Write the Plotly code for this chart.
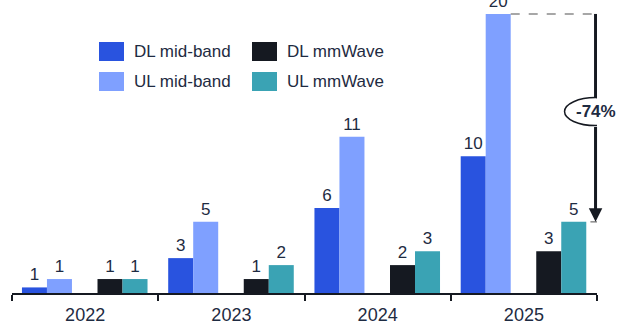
import plotly.graph_objects as go

years = ["2022", "2023", "2024", "2025"]
dl_mid = [0.4, 2.5, 6.1, 9.8]
ul_mid = [1.0, 5.1, 11.2, 20.0]
dl_mm = [1.0, 1.0, 2.0, 3.0]
ul_mm = [1.0, 2.0, 3.0, 5.1]
dl_mid_lbl = ["1", "3", "6", "10"]
ul_mid_lbl = ["1", "5", "11", "20"]
dl_mm_lbl = ["1", "1", "2", "3"]
ul_mm_lbl = ["1", "2", "3", "5"]
change_label = "-74%"

names = ["DL mid-band", "UL mid-band", "DL mmWave", "UL mmWave"]
colors = ["#2953DF", "#7FA0FF", "#151921", "#3AA3B4"]
TXT = "#1E2B42"
FONT = "Liberation Sans, Arial, sans-serif"
FS = 17

W, H = 627, 326
ML, MR, MT, MB = 12, 30, 0, 33
PW, PH = W - ML - MR, H - MT - MB

bw = 0.171
offsets = [-0.432, -0.432 + bw, 0.0846, 0.0846 + bw]

fig = go.Figure()
for name, vals, lbls, col, off in zip(
    names, [dl_mid, ul_mid, dl_mm, ul_mm],
    [dl_mid_lbl, ul_mid_lbl, dl_mm_lbl, ul_mm_lbl], colors, offsets):
    fig.add_trace(go.Bar(
        x=years, y=vals, name=name, text=lbls, textposition="outside",
        texttemplate="%{text}", cliponaxis=False, constraintext="none",
        outsidetextfont=dict(size=FS, color=TXT, family=FONT),
        marker=dict(color=col, line=dict(width=0)),
        width=bw, offset=off, showlegend=False,
    ))

def px(x):
    return (x - ML) / PW

def py(y):
    return 1 - (y - MT) / PH

shapes = []
annotations = []
# manual legend
leg = [(99, 42, 0), (252, 42, 2), (99, 72, 1), (252, 72, 3)]
for x0, y0, i in leg:
    shapes.append(dict(type="rect", xref="paper", yref="paper",
                       x0=px(x0), x1=px(x0 + 25), y0=py(y0 + 19), y1=py(y0),
                       fillcolor=colors[i], line=dict(width=0)))
    annotations.append(dict(xref="paper", yref="paper", x=px(x0 + 33), y=py(y0 + 9.5),
                            text=names[i], showarrow=False, xanchor="left", yanchor="middle",
                            font=dict(size=FS, color=TXT, family=FONT)))

# comparison: dashed guides + arrow + ellipse label
top = ul_mid[-1]
bot = ul_mm[-1]
xa = 3.49
ymid = 13.0
half_h = 14 / PH * 21.0  # ellipse half-height in data units
shapes.append(dict(type="line", xref="x", yref="y", x0=3 + offsets[1] + bw, x1=3.52,
                   y0=top, y1=top, line=dict(color="#8A8A8A", width=1.5, dash="dash")))
shapes.append(dict(type="line", xref="x", yref="y", x0=3.455, x1=3.54,
                   y0=bot, y1=bot, line=dict(color="#8A8A8A", width=1.5, dash="dash")))
shapes.append(dict(type="line", xref="x", yref="y", x0=xa, x1=xa, y0=top, y1=ymid,
                   line=dict(color="#151921", width=3), layer="above"))
annotations.append(dict(x=xa, y=bot, ax=xa, ay=ymid - half_h, xref="x", yref="y",
                        axref="x", ayref="y",
                        text="", showarrow=True, arrowhead=2, arrowsize=0.9, arrowwidth=3,
                        arrowcolor="#151921", standoff=0))
shapes.append(dict(type="circle", xref="x", yref="y", xsizemode="pixel", ysizemode="pixel",
                   xanchor=xa, yanchor=ymid, x0=-31, x1=31, y0=-14, y1=14,
                   fillcolor="white", line=dict(color="#151921", width=1.5), layer="above"))
annotations.append(dict(x=xa, y=ymid, xref="x", yref="y", text="<b>" + change_label + "</b>",
                        showarrow=False, font=dict(size=FS, color=TXT, family=FONT)))

fig.update_layout(
    width=W, height=H, margin=dict(l=ML, r=MR, t=MT, b=MB, autoexpand=False),
    plot_bgcolor="white", paper_bgcolor="white",
    barmode="overlay", shapes=shapes, annotations=annotations,
    font=dict(family=FONT, size=FS, color=TXT),
    xaxis=dict(type="category", range=[-0.5, 3.5], showline=True, linecolor="#151921",
               linewidth=1.5, ticks="outside", tickson="boundaries", ticklen=6,
               tickwidth=1.5, tickcolor="#151921", showgrid=False, ticklabelstandoff=5,
               tickfont=dict(size=18, color=TXT, family=FONT)),
    yaxis=dict(visible=False, range=[0, 21.0], showgrid=False, zeroline=False),
)

fig.write_html("out.html")
